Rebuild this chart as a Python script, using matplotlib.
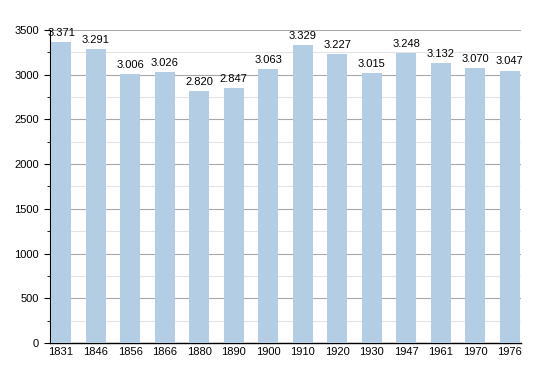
import matplotlib.pyplot as plt
from matplotlib.ticker import MultipleLocator

years = ["1831", "1846", "1856", "1866", "1880", "1890", "1900",
         "1910", "1920", "1930", "1947", "1961", "1970", "1976"]
population = [3371, 3291, 3006, 3026, 2820, 2847, 3063,
              3329, 3227, 3015, 3248, 3132, 3070, 3047]

plt.rcParams['font.family'] = 'Liberation Sans'
fig = plt.figure(figsize=(5.5, 3.73), dpi=100)
ax = fig.add_axes([50 / 550, 1 - 343 / 373, 471 / 550, 313 / 373])

x = list(range(len(years)))
ax.bar(x, population, width=0.58, color="#b3cde4", zorder=3)
for i, v in enumerate(population):
    label = "{:,}".format(v).replace(",", ".")
    ax.text(i, v + 45, label, ha="center", va="bottom", fontsize=8, zorder=4)

ax.set_xlim(-0.32, 13.33)
ax.set_ylim(0, 3500)
ax.set_xticks(x)
ax.set_xticklabels(years, fontsize=8)
ax.tick_params(axis="x", length=0, pad=3)
ax.yaxis.set_major_locator(MultipleLocator(500))
ax.yaxis.set_minor_locator(MultipleLocator(250))
ax.tick_params(axis="y", which="major", length=4, labelsize=8, pad=4)
ax.tick_params(axis="y", which="minor", length=2)
ax.grid(axis="y", which="major", color="#a8a8a8", linewidth=0.8, zorder=0)
ax.grid(axis="y", which="minor", color="#e3e3e3", linewidth=0.8, zorder=0)
for s in ["top", "right"]:
    ax.spines[s].set_visible(False)
ax.spines["left"].set_linewidth(0.8)
ax.spines["bottom"].set_linewidth(1.0)

fig.savefig("out.png", dpi=100)
